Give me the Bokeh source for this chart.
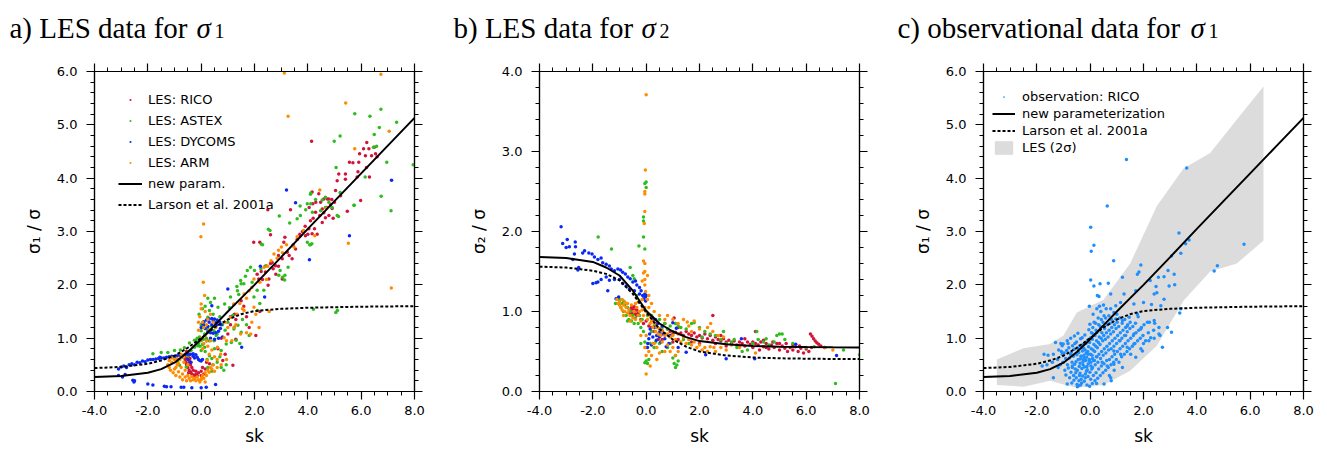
import numpy as np
from bokeh.plotting import figure
from bokeh.models import (Range1d, LinearAxis, FixedTicker, PrintfTickFormatter,
                          CustomJSTickFormatter, Legend, LegendItem)
from bokeh.core.properties import value
from bokeh.layouts import row, column
from bokeh.embed import file_html
from bokeh.resources import INLINE

# ---------------- data ----------------
X_TICKS = [-4, -2, 0, 2, 4, 6, 8]
Y_TICKS_A = [0, 1, 2, 3, 4, 5, 6]
Y_TICKS_B = [0, 1, 2, 3, 4]
TITLES = ["a) LES data for", "b) LES data for", "c) observational data for"]
TITLE_SUBS = ["1", "2", "1"]

# parameterization curves
SK_CURVE = [-4, -3, -2, -1.5, -1, -0.5, 0, 0.5, 1, 1.5, 2, 3, 4, 5, 6, 7, 8]
NEW_S1 = [0.27, 0.29, 0.35, 0.42, 0.54, 0.74, 0.98, 1.24, 1.5, 1.75, 2.0, 2.52, 3.05, 3.57, 4.09, 4.61, 5.13]
LARSON_S1 = [0.44, 0.46, 0.52, 0.58, 0.67, 0.82, 1.0, 1.2, 1.35, 1.45, 1.51, 1.55, 1.57, 1.58, 1.59, 1.595, 1.6]
NEW_S2 = [1.68, 1.67, 1.62, 1.55, 1.45, 1.26, 1.01, 0.85, 0.75, 0.68, 0.63, 0.59, 0.57, 0.56, 0.555, 0.552, 0.55]
LARSON_S2 = [1.56, 1.55, 1.51, 1.47, 1.39, 1.22, 0.99, 0.78, 0.65, 0.56, 0.5, 0.45, 0.425, 0.415, 0.41, 0.407, 0.405]

# LES 2-sigma band (panel c)
BAND_SK = [-3.5, -2.5, -1.5, -1.0, -0.5, 0.5, 1.5, 2.5, 3.5, 4.5, 5.5, 6.5]
BAND_LO = [0.12, 0.09, 0.2, 0.13, 0.07, 0.12, 0.39, 0.86, 1.7, 2.25, 2.4, 2.83]
BAND_HI = [0.6, 0.81, 0.89, 1.05, 1.48, 1.72, 2.4, 3.48, 4.18, 4.47, 5.1, 5.72]

# panel a: sigma1/sigma from LES
A_RICO = [(4.14,4.69),(2.5,3.41),(2.2,2.8),(1.97,2.8),(2.6,2.94),(3.14,2.89),(3.35,3.41),(3.23,2.61),(3.54,2.67),
          (3.41,2.49),(3.04,2.49),(2.79,2.36),(2.6,2.4),(2.41,2.24),(2.16,2.11),(2.51,1.99),(3.04,2.11),(3.72,2.92),
          (3.91,2.92),(4.16,2.96),(4.04,3.05),(4.29,3.36),(4.19,3.52),(4.54,3.17),(4.66,3.26),(4.79,3.3),(4.91,3.43),
          (4.73,3.61),(5.04,3.77),(5.1,3.95),(4.79,3.61),(4.54,3.42),(4.48,3.55),(4.16,3.74),(4.41,3.71),(4.6,3.61),
          (5.23,3.67),(5.48,3.38),(5.16,4.08),(5.41,4.08),(5.56,4.3),(5.69,4.29),(5.91,4.3),(5.94,4.46),(6.09,4.55),
          (6.21,4.67),(6.29,4.55),(6.39,4.42),(6.54,4.46),(6.49,4.58),(6.16,4.42),(5.85,4.02),(5.98,3.58),(6.31,4.02),
          (5.88,4.12),(5.41,3.98),(2.66,2.42),(2.54,2.11),(3.6,2.85),(3.8,3.0),(3.9,3.1),(4.0,2.95),(4.1,3.2),(4.2,3.25),
          (4.25,3.05),(4.35,2.95),(4.45,3.3),(4.6,3.35),(4.7,3.45),(3.7,2.95),(4.05,3.45),(4.3,3.55),(4.85,3.5),(4.9,3.6),
          (5.0,3.55),(4.95,3.25),(3.3,2.55),(3.45,2.75),(2.9,2.35),(2.8,2.2),(2.7,2.3),(2.3,2.1),(2.25,2.25),(2.4,2.35),
          (2.9,2.55),(3.1,2.8),(2.1,2.2),(6.6,4.4),(6.2,4.2),(1.0,1.08),(1.25,1.45),(1.5,1.7),(0.75,1.0),(0.81,0.58),
          (0.31,0.52),(1.19,0.49),(0.63,0.8),(0.5,0.96),(1.1,1.25),(1.3,1.35),(1.6,1.6),(1.8,1.2),(2.05,1.05),(1.3,0.98),
          (0.9,0.7),(1.7,1.4),(2.2,1.5),(-0.55,0.75),(-0.6,0.7),(-0.62,0.65),(-0.6,0.6),(-0.58,0.55),(-0.55,0.5),
          (-0.5,0.45),(-0.45,0.4),(-0.4,0.36),(-0.35,0.33),(-0.3,0.31),(-0.25,0.3),(-0.2,0.32),(-0.5,0.72),(-0.45,0.68),
          (-0.42,0.62),(-0.45,0.57),(-0.48,0.52),(-0.4,0.5),(-0.35,0.45),(-0.3,0.4),(-0.2,0.38),(-0.1,0.35),(0.0,0.38),
          (0.1,0.33),(0.15,0.42),(-0.15,0.3),(0.0,0.3),(-0.38,0.55),(-0.52,0.62),(-0.47,0.35),(0.2,0.55),(0.05,0.45)]

A_ASTEX = [(6.74,5.29),(6.33,5.16),(5.76,5.21),(6.68,4.95),(7.33,5.05),(5.21,4.79),(4.99,4.69),(6.49,4.82),(6.58,4.6),
           (7.95,4.25),(5.06,4.2),(6.15,4.02),(6.75,3.66),(7.12,3.39),(5.74,3.49),(5.21,3.73),(5.15,3.28),(4.11,3.72),
           (4.11,3.52),(3.71,3.48),(4.17,3.36),(3.6,3.24),(2.93,3.29),(2.58,3.02),(4.15,2.77),(4.07,2.75),(3.32,3.16),
           (3.05,2.14),(3.13,2.09),(3.26,2.33),(2.3,2.75),(2.0,2.27),(1.73,2.27),(1.48,2.08),(1.36,1.89),(1.1,1.77),
           (2.1,1.9),(1.98,1.77),(5.11,1.52),(5.05,1.48),(4.21,1.54),(2.11,1.52),(1.23,1.17),(0.6,1.08),(0.48,0.95),
           (4.66,3.64),(4.79,3.55),(4.91,3.45),(4.54,3.59),(4.29,3.6),(3.98,3.52),(4.1,3.7),(3.92,3.41),(3.72,3.3),
           (2.52,3.04),(2.26,2.76),(1.85,2.33),(1.66,2.16),(1.34,1.97),(1.41,1.82),(1.22,1.63),(1.6,2.02),(1.91,2.05),
           (2.24,2.3),(2.44,2.36),(2.96,2.27),(3.14,2.18),(2.91,2.18),(3.98,2.8),(4.1,2.75),(4.48,3.39),(4.66,3.45),
           (5.1,3.3),(5.73,3.49),(6.46,4.58),(6.96,4.3),
           (-1.81,0.71),(-1.5,0.73),(-1.25,0.73),(-1.0,0.77),(-0.78,0.78),(-0.63,0.82),(-0.44,0.91),(-0.25,0.96),
           (-0.06,1.02),(0.0,1.14),(0.03,1.2),(0.1,1.3),(0.25,1.39),(0.31,1.52),(0.35,1.67),(0.63,1.58),(0.88,1.64),
           (1.06,1.57),(1.19,1.43),(1.25,1.21),(1.38,1.24),(1.5,2.02),(1.5,1.11),(1.31,0.96),(1.13,0.92),(0.94,0.89),
           (0.75,0.77),(0.31,0.67),(0.44,0.5),(0.5,0.8),(0.13,0.83),(0.0,0.77),(-0.13,0.86),(-0.19,0.95),(-0.25,0.83),
           (-0.38,0.77),(-0.5,0.67),(-0.69,0.64),(-0.88,0.55),(-0.81,0.49),(-0.56,0.46),(0.75,0.45),(0.94,0.5),
           (0.13,1.08),(0.25,1.17),(0.38,1.23),(0.48,1.14),(0.56,1.05),(-0.1,0.9),(0.0,0.95),(-0.05,0.85),(0.05,0.88),
           (0.08,0.98),(-0.15,1.0),(0.2,1.0),(0.3,0.95),(0.15,0.75),(0.22,0.6),(0.4,0.62),(0.6,0.55),(0.7,0.65),
           (0.85,0.4),(0.4,0.38),(0.25,0.45),(0.0,1.25),(-0.08,1.45),(0.05,1.55),(0.15,1.6),(0.45,1.45),(0.7,1.4),
           (0.8,1.25),(0.9,1.15),(1.0,1.3),(0.6,1.3),(0.5,1.75),(0.25,1.75),(1.55,1.35),(1.7,1.25),(1.8,1.05),
           (1.45,0.9),(2.2,1.65),(2.35,1.9)]

A_DYCOMS = [(-3.1,0.42),(-3.0,0.46),(-2.9,0.48),(-2.8,0.45),(-2.7,0.5),(-2.6,0.52),(-2.5,0.5),(-2.4,0.55),(-2.3,0.54),
            (-2.2,0.57),(-2.1,0.56),(-2.0,0.59),(-1.9,0.6),(-1.8,0.6),(-1.7,0.61),(-1.6,0.62),(-1.55,0.64),(-1.5,0.63),
            (-1.4,0.63),(-1.3,0.64),(-1.2,0.65),(-1.1,0.66),(-1.0,0.65),(-0.9,0.67),(-0.8,0.68),(-0.7,0.67),(-0.6,0.69),
            (-0.5,0.7),(-0.4,0.7),(-0.3,0.71),(-0.2,0.69),(-0.15,0.64),(-0.1,0.6),(-0.05,0.58),(0.0,0.57),(0.05,0.6),
            (-0.3,0.66),(-0.25,0.63),(-3.1,0.3),(-2.95,0.27),(-2.85,0.32),(-2.56,0.21),(-2.5,0.2),(-2.52,0.18),
            (-2.0,0.14),(-1.81,0.12),(-1.38,0.1),(-1.3,0.09),(-1.13,0.09),(-0.75,0.08),(-0.65,0.08),(-0.35,0.07),
            (0.0,0.07),(0.19,0.08),(0.54,0.13),(0.0,1.2),(0.05,1.28),(0.1,1.31),(0.2,1.34),(0.3,1.36),(0.4,1.37),
            (0.5,1.36),(0.6,1.34),(0.7,1.3),(0.75,1.25),(0.72,1.18),(0.65,1.13),(0.55,1.1),(0.45,1.09),(0.35,1.1),
            (0.25,1.13),(0.15,1.18),(0.1,1.24),(0.3,1.3),(0.45,1.32),(0.55,1.29),(0.6,1.25),(0.4,1.25),(0.25,1.22),
            (0.35,1.0),(0.5,0.98),(0.65,1.0),(0.8,1.02),(0.2,0.95),(1.0,1.92),(2.22,2.35),(2.38,1.77),(3.2,3.78),
            (3.54,3.54),(4.06,2.47),(5.56,2.92),(7.14,3.96),(0.4,1.61),(1.52,0.83),(1.1,1.4),(-0.5,0.6),(-0.4,0.55)]

A_ARM = [(3.12,5.97),(3.26,5.16),(5.42,5.41),(6.74,5.95),(7.05,4.88),(5.76,4.55),(5.52,2.78),(7.13,1.94),(0.09,3.14),
         (-0.01,2.9),(0.08,2.05),(4.45,3.78),(4.7,3.43),(4.26,2.92),(3.84,3.02),(3.48,2.71),(3.01,2.71),(2.73,2.58),
         (2.62,2.45),(2.36,2.33),(1.98,2.11),(1.8,1.89),(1.61,1.83),(1.23,1.64),(1.1,1.39),(1.61,1.52),(1.98,1.58),
         (2.17,1.2),(1.86,1.08),(1.48,1.08),(1.23,1.2),(0.86,1.01),(0.61,0.83),(0.73,0.7),(0.23,0.58),(0.02,0.26),
         (2.9,2.65),(3.05,2.6),(2.5,2.35),(2.45,2.1),(2.2,2.05),(1.7,1.75),(1.45,1.65),(1.35,1.45),(3.6,2.9),(3.2,2.75),
         (2.85,2.5),(1.9,1.95),(1.55,1.55),(1.7,1.1),(1.9,1.3),(2.05,1.45),(1.3,1.25),(1.0,1.2),(0.9,1.3),(0.95,0.95),
         (1.15,0.95),(2.55,1.5),(0.0,1.55),(0.0,1.64),(0.13,1.8),(-0.05,1.4),(0.05,1.3),(0.1,1.2),(-0.1,1.15),
         (0.15,1.05),(0.2,1.25),(0.25,1.35),(0.3,1.15),(0.2,0.95),(0.1,0.9),(0.0,1.0),(-0.05,0.95),(0.05,0.8),(0.25,0.85),
         (0.35,0.95),(0.4,0.78),(0.3,0.7),(0.5,0.65),(0.6,0.6),(-0.1,1.3),(0.15,1.5),(0.35,1.45),(0.45,1.3),(0.55,1.2),
         (-1.25,0.5),(-1.2,0.45),(-1.15,0.4),(-1.1,0.55),(-1.05,0.35),(-1.0,0.6),(-1.0,0.42),(-0.95,0.3),(-0.9,0.5),
         (-0.85,0.37),(-0.8,0.27),(-0.8,0.6),(-0.75,0.45),(-0.7,0.33),(-0.7,0.22),(-0.65,0.55),(-0.6,0.4),(-0.6,0.27),
         (-0.55,0.2),(-0.5,0.3),(-0.45,0.25),(-0.4,0.2),(-0.35,0.28),(-0.3,0.22),(-0.25,0.25),(-0.2,0.2),(-0.15,0.27),
         (-0.1,0.22),(-0.05,0.18),(0.0,0.22),(0.05,0.3),(0.1,0.25),(0.15,0.35),(0.2,0.3),(0.25,0.4),(0.3,0.36),
         (0.35,0.45),(0.4,0.42),(0.45,0.5),(0.5,0.38),(-1.1,0.63),(-0.9,0.62),(-0.95,0.45),(-0.65,0.65),(-0.75,0.7),
         (-1.2,0.58),(-0.85,0.52),(-0.5,0.5),(0.6,0.45),(0.75,0.5),(0.95,0.6),(0.15,0.18)]

# panel b: sigma2/sigma from LES
B_RICO = [(-0.6,1.02),(-0.55,1.05),(-0.5,1.03),(-0.45,1.0),(-0.4,0.97),(-0.35,0.95),(-0.5,0.96),(-0.55,0.98),(-0.45,1.06),
          (-0.4,1.02),(-0.3,0.98),(-0.35,1.02),(-0.6,0.97),(-0.2,0.9),(-0.1,0.85),(0.0,0.88),(0.1,0.82),(0.2,0.8),
          (0.3,0.75),(0.35,0.85),(0.5,0.78),(0.6,0.76),(0.7,0.72),(0.8,0.78),(0.9,0.75),(1.0,0.72),(1.1,0.74),(1.2,0.8),
          (1.3,0.73),(1.4,0.7),(1.5,0.75),(1.6,0.72),(1.7,0.7),(1.8,0.73),(1.9,0.68),(2.0,0.7),(2.1,0.67),(2.2,0.72),
          (2.3,0.66),(2.4,0.7),(2.5,0.95),(2.5,0.64),(2.6,0.68),(2.7,0.65),(2.8,0.63),(2.9,0.66),(3.0,0.62),(3.1,0.64),
          (3.2,0.6),(3.3,0.63),(3.4,0.58),(3.5,0.62),(3.6,0.6),(3.7,0.57),(3.8,0.62),(3.9,0.59),(4.0,0.55),(4.1,0.75),
          (4.1,0.6),(4.2,0.58),(4.3,0.62),(4.4,0.56),(4.5,0.6),(4.6,0.53),(4.7,0.58),(4.8,0.55),(4.9,0.6),(5.0,0.52),
          (5.1,0.57),(5.2,0.54),(5.3,0.5),(5.4,0.55),(5.5,0.52),(5.6,0.56),(5.7,0.5),(5.8,0.54),(5.9,0.48),(6.0,0.53),
          (6.1,0.5),(6.16,0.72),(6.22,0.69),(6.28,0.66),(6.34,0.63),(6.4,0.61),(6.47,0.59),(6.55,0.57),(6.7,0.55),
          (0.25,0.9),(0.6,0.65),(1.0,0.62),(1.2,0.65),(1.7,0.62),(2.0,0.6),(2.6,0.6),(3.0,0.57),(3.5,0.56),(4.0,0.62),
          (4.5,0.55),(5.0,0.6),(5.5,0.58),(4.4,0.64),(3.7,0.66),(2.8,0.7),(0.7,0.85),(1.05,0.92),(0.45,0.65),(0.15,0.95),
          (4.25,0.52),(4.75,0.62),(5.25,0.6),(5.75,0.57),(6.2,0.55)]

B_ASTEX = [(0.0,2.62),(-0.05,2.6),(0.0,2.55),(-0.1,2.18),(-0.1,2.13),(-0.1,1.93),(-0.05,1.78),(-0.27,1.82),(-1.8,1.93),
           (-1.3,1.78),(-0.6,1.55),(-0.5,1.45),(-0.45,1.41),(-0.35,1.2),(-1.15,1.1),(-1.0,1.15),(-0.95,1.05),(-0.9,1.1),
           (-0.85,1.0),(-0.8,1.08),(-0.75,0.95),(-0.7,1.05),(-0.65,0.9),(-0.6,1.0),(-0.55,0.88),(-0.5,0.95),(-0.45,0.85),
           (-0.4,0.92),(-0.3,0.85),(-0.25,0.95),(-0.2,0.8),(-0.15,0.9),(-0.1,0.75),(-0.05,0.62),(0.0,0.55),(0.0,0.38),
           (-0.05,0.36),(0.05,0.35),(0.1,0.4),(0.15,0.6),(-0.2,0.6),(0.2,0.75),(0.3,0.82),(0.4,0.7),(0.5,0.9),(0.6,0.8),
           (0.7,0.85),(0.8,0.78),(0.9,0.82),(1.0,0.75),(1.1,0.85),(1.2,0.82),(1.3,0.8),(1.5,0.78),(1.7,0.85),(1.8,0.86),
           (2.0,0.8),(2.2,0.75),(2.4,0.72),(2.6,0.7),(2.8,0.65),(3.0,0.6),(3.2,0.62),(3.4,0.55),(3.6,0.5),(3.8,0.52),
           (4.0,0.6),(4.15,0.75),(4.2,0.65),(4.4,0.62),(4.6,0.58),(4.8,0.62),(4.9,0.7),(5.0,0.72),(5.1,0.72),(5.2,0.65),
           (5.5,0.6),(6.0,0.55),(6.3,0.56),(6.7,0.55),(7.1,0.1),(7.4,0.52),(8.0,0.46),(1.05,0.35),(1.1,0.3),(1.15,0.33),
           (1.2,0.38),(1.0,0.42),(1.1,0.45),(0.8,0.55),(0.6,0.5),(0.3,0.55),(1.4,0.65),(1.6,0.6),(0.5,0.6),(0.9,0.6),
           (-1.05,1.17),(-0.85,1.13),(-0.7,0.88),(0.05,0.95),(0.2,0.95),(0.35,0.62),(2.1,0.68),(2.9,0.75),(3.3,0.65),
           (4.5,0.66)]

B_DYCOMS = [(-3.19,2.06),(-3.13,1.85),(-2.96,1.9),(-3.0,1.8),(-2.88,1.81),(-2.66,1.87),(-2.65,1.81),(-2.69,1.72),
            (-2.75,1.65),(-2.53,1.55),(-2.56,1.52),(-2.38,1.73),(-2.31,1.76),(-2.15,1.73),(-2.03,1.72),(-1.94,1.68),
            (-1.81,1.65),(-1.69,1.67),(-1.63,1.61),(-1.5,1.59),(-1.38,1.57),(-1.31,1.53),(-1.19,1.51),(-1.06,1.53),
            (-0.96,1.52),(-0.88,1.49),(-0.78,1.47),(-0.69,1.43),(-0.6,1.41),(-0.5,1.37),(-0.4,1.38),(-0.35,1.33),
            (-0.25,1.3),(-0.19,1.26),(-0.13,1.2),(-0.03,1.18),(-0.1,1.16),(-0.25,1.22),(-0.44,1.26),(-0.63,1.28),
            (-0.75,1.32),(-0.88,1.35),(-1.0,1.4),(-1.19,1.4),(-1.38,1.39),(-1.5,1.43),(-1.69,1.4),(-1.81,1.37),
            (-2.0,1.35),(-1.88,1.36),(-1.44,1.26),(-1.13,1.16),(-1.03,1.18),(-0.05,1.22),(0.0,1.2),(-0.02,1.13),
            (0.13,0.72),(0.25,0.68),(0.06,0.6),(0.38,0.64),(0.5,0.74),(0.63,0.72),(0.31,0.8),(0.75,0.56),(1.0,0.86),
            (1.13,0.79),(1.5,0.49),(0.5,0.68),(0.1,0.66),(0.2,0.58),(0.15,0.78),(0.4,0.7),(0.55,0.62),(0.7,0.66),
            (0.85,0.6),(0.45,0.85),(0.35,0.9),(0.25,0.92),(0.6,0.82),(0.9,0.7),(0.05,0.55),(2.23,0.46),(3.0,0.41),
            (3.57,0.66),(4.07,0.41),(5.61,0.59),(7.14,0.45),(1.2,0.55)]

B_ARM = [(0.0,3.71),(-0.03,2.77),(-0.05,2.5),(-0.05,2.47),(-0.05,2.25),(-0.07,2.1),(-0.1,1.63),(-0.05,1.6),(-0.05,1.5),
         (-0.1,1.48),(-0.05,1.4),(0.05,1.45),(-0.15,1.38),(-0.05,1.33),(0.1,1.2),(-0.02,1.25),(-1.1,1.15),(-1.05,1.1),
         (-1.0,1.08),(-1.0,1.12),(-0.95,1.05),(-0.9,1.15),(-0.9,1.02),(-0.85,1.08),(-0.8,1.0),(-0.8,1.12),(-0.75,1.05),
         (-0.7,0.98),(-0.7,1.1),(-0.65,1.02),(-0.6,0.95),(-0.55,1.08),(-0.5,0.92),(-0.45,1.0),(-0.4,0.9),(-0.35,1.05),
         (-0.3,0.95),(-0.25,1.0),(-0.2,0.88),(-0.15,1.02),(-0.1,0.95),(-0.05,1.05),(0.0,1.0),(0.05,0.9),(0.1,0.95),
         (0.15,0.85),(0.2,0.88),(0.25,0.8),(0.3,0.85),(0.35,0.75),(0.4,0.8),(0.45,0.72),(0.5,0.78),(0.55,0.7),(0.6,0.75),
         (0.7,0.7),(0.8,0.72),(0.9,0.68),(1.0,0.7),(1.1,0.65),(1.2,0.72),(1.3,0.62),(1.4,0.68),(1.5,0.6),(1.6,0.65),
         (1.7,0.58),(1.8,0.62),(1.9,0.55),(2.0,0.58),(2.1,0.52),(2.2,0.55),(2.3,0.5),(2.4,0.56),(2.6,0.5),(2.8,0.55),
         (3.0,0.52),(3.2,0.58),(3.5,0.55),(4.1,0.48),(6.7,0.55),(7.0,0.52),(0.0,0.22),(0.0,0.45),(-0.05,0.55),(0.1,0.5),
         (0.2,0.45),(0.3,0.6),(0.4,0.55),(0.5,0.48),(0.7,0.5),(0.6,0.62),(0.8,0.58),(0.9,0.5),(1.0,0.55),(1.1,0.45),
         (1.2,0.5),(0.4,0.4),(0.15,0.32),(0.25,0.6),(0.0,0.7),(-0.2,0.7),(0.1,1.05),(0.2,1.1),(0.3,1.0),(0.5,0.95),
         (0.7,0.9),(0.8,0.95),(1.0,0.9),(1.2,0.85),(1.4,0.9),(1.6,0.82),(1.8,0.88),(2.0,0.78),(2.3,0.8),(2.5,0.75),
         (2.7,0.7),(2.9,0.68),(1.7,0.75),(-0.3,1.12),(-0.15,1.15),(0.05,1.15),(-0.4,1.1),(-0.85,0.95),(-0.6,0.88),
         (1.54,0.87),(2.42,0.85),(2.54,0.55)]

# panel c: observations (RICO)
C_OBS = [(1.36,4.35),(3.62,4.19),(0.64,3.48),(0.02,3.08),(0.14,2.74),(0.04,2.63),(0.88,2.45),(3.33,2.97),(3.71,2.84),
         (3.58,2.77),(3.4,2.59),(3.05,2.54),(4.77,2.36),(4.65,2.26),(5.77,2.76),(0.02,2.09),(0.14,1.98),(0.37,2.02),
         (0.68,2.03),(1.9,2.37),(1.83,2.24),(1.77,2.2),(1.21,2.14),(1.71,1.89),(2.25,2.08),(2.56,2.14),(2.77,2.15),
         (3.15,2.2),(2.92,2.27),(2.96,1.98),(3.17,2.0),(2.47,1.97),(2.4,1.83),(2.5,1.85),(2.77,1.73),(2.65,1.61),
         (2.3,1.63),(2.0,1.67),(1.64,1.64),(1.27,1.83),(0.27,1.8),(0.33,1.78),(0.77,1.83),(1.14,1.67),(3.4,1.55),
         (3.36,1.47),(3.05,1.11),(2.71,0.83),(2.9,1.2),(2.58,1.08),(2.4,1.33),(2.15,1.3),(2.27,1.01),(2.08,0.95),
         (1.96,0.76),(1.71,0.64),(1.52,0.7),(1.39,0.83),(1.33,1.05),(1.64,1.08),(1.9,1.17),(1.77,1.45),(1.46,1.39),
         (1.21,1.33),(0.96,1.36),(0.89,1.48),(0.96,1.61),(0.77,1.55),(1.39,1.23),(1.12,0.95),(0.89,0.76),(1.21,0.45),
         (0.77,0.26),(0.79,0.2),(0.52,0.14),(0.24,0.15),(0.89,0.51),(1.64,0.89),(1.14,0.7),(0.64,0.48),(-1.73,0.7),
         (-1.8,0.48),(-1.38,0.26),(-1.3,0.92),(-1.01,0.89),(-1.05,0.7),(-0.86,0.14),(-0.48,0.09),(-0.36,0.12),(-0.67,0.45),
         (-1.02,0.55),(-0.98,0.72),(-1.05,0.86),(-0.95,0.4),(-0.92,0.62),(-0.88,0.77),(-0.91,0.31),(-0.86,0.95),
         (-0.85,0.5),(-0.82,0.44),(-0.78,0.63),(-0.8,0.82),(-0.77,0.26),(-0.83,0.9),(-0.74,0.7),(-0.72,0.36),(-0.68,0.55),
         (-0.71,0.73),(-0.66,0.86),(-0.69,0.16),(-0.73,1.0),(-0.67,0.48),(-0.62,0.3),(-0.58,0.51),(-0.63,0.66),(-0.6,0.79),
         (-0.57,0.9),(-0.61,0.21),(-0.59,1.04),(-0.56,0.42),(-0.52,0.26),(-0.48,0.4),(-0.53,0.56),(-0.5,0.69),(-0.47,0.81),
         (-0.51,0.93),(-0.49,0.13),(-0.46,1.09),(-0.54,0.35),(-0.45,0.6),(-0.42,0.2),(-0.38,0.34),(-0.41,0.47),(-0.37,0.61),
         (-0.43,0.73),(-0.39,0.86),(-0.36,0.99),(-0.4,0.3),(-0.35,0.66),(-0.44,0.11),(-0.38,0.53),(-0.32,0.16),(-0.28,0.29),
         (-0.31,0.43),(-0.27,0.56),(-0.33,0.66),(-0.29,0.76),(-0.26,0.88),(-0.3,1.01),(-0.25,0.6),(-0.34,0.23),(-0.24,0.81),
         (-0.27,0.5),(-0.22,0.19),(-0.18,0.33),(-0.21,0.46),(-0.17,0.58),(-0.23,0.68),(-0.19,0.78),(-0.16,0.9),(-0.2,1.06),
         (-0.14,0.38),(-0.22,0.63),(-0.15,0.72),(-0.18,0.26),(-0.12,0.12),(-0.08,0.28),(-0.11,0.41),(-0.07,0.52),
         (-0.13,0.64),(-0.09,0.75),(-0.06,0.84),(-0.1,0.96),(-0.05,1.16),(-0.04,0.58),(-0.12,0.47),(-0.08,0.7),(-0.02,0.1),
         (0.02,0.23),(-0.01,0.36),(0.03,0.48),(-0.03,0.6),(0.01,0.7),(0.04,0.8),(-0.02,0.92),(0.02,1.01),(0.05,1.1),
         (-0.01,1.26),(0.03,0.55),(0.06,0.42),(-0.03,1.6),(0.08,0.15),(0.12,0.3),(0.09,0.45),(0.13,0.58),(0.07,0.68),
         (0.11,0.78),(0.14,0.88),(0.08,0.98),(0.12,1.08),(0.1,1.2),(0.15,1.3),(0.09,0.62),(0.11,1.45),(0.18,0.2),(0.22,0.35),
         (0.19,0.5),(0.23,0.65),(0.17,0.75),(0.21,0.85),(0.24,0.95),(0.18,1.05),(0.22,1.15),(0.2,1.28),(0.25,1.55),
         (0.16,0.58),(0.28,0.25),(0.32,0.42),(0.29,0.55),(0.33,0.7),(0.27,0.82),(0.31,0.92),(0.34,1.02),(0.28,1.12),
         (0.32,1.25),(0.3,1.38),(0.35,1.6),(0.26,0.65),(0.38,0.3),(0.42,0.48),(0.39,0.62),(0.43,0.75),(0.37,0.88),(0.41,1.0),
         (0.44,1.1),(0.38,1.22),(0.42,1.35),(0.4,1.5),(0.45,0.55),(0.48,0.35),(0.52,0.52),(0.49,0.68),(0.53,0.8),(0.47,0.95),
         (0.51,1.05),(0.54,1.18),(0.48,1.3),(0.52,1.42),(0.5,1.62),(0.58,0.4),(0.62,0.58),(0.59,0.72),(0.63,0.85),(0.57,0.98),
         (0.61,1.1),(0.64,1.25),(0.58,1.38),(0.6,1.55),(0.68,0.45),(0.72,0.6),(0.69,0.78),(0.73,0.9),(0.67,1.02),(0.71,1.15),
         (0.74,1.28),(0.7,1.42),(0.72,0.3),(0.78,0.5),(0.82,0.65),(0.79,0.8),(0.83,0.95),(0.77,1.08),(0.81,1.2),(0.8,1.35),
         (0.88,0.55),(0.92,0.7),(0.89,0.85),(0.93,1.0),(0.87,1.12),(0.91,1.25),(0.9,0.4),(0.98,0.6),(1.02,0.75),(0.99,0.9),
         (1.03,1.05),(0.97,1.18),(1.01,1.3),(1.0,1.45),(1.08,0.55),(1.12,0.8),(1.09,0.95),(1.13,1.1),(1.07,1.22),(1.11,1.38),
         (1.18,0.65),(1.22,0.85),(1.19,1.0),(1.23,1.15),(1.2,1.28),(1.28,0.7),(1.32,0.9),(1.29,1.05),(1.33,1.2),(1.3,1.35),
         (1.38,0.75),(1.42,0.95),(1.39,1.12),(1.41,1.25),(1.48,0.8),(1.52,1.0),(1.49,1.18),(1.5,1.3),(1.58,0.85),(1.62,1.05),
         (1.6,1.22),(1.68,0.9),(1.72,1.1),(1.7,1.28),(1.78,0.95),(1.82,1.15),(1.8,1.4),(1.88,1.0),(1.92,1.2),(1.9,0.8),
         (1.98,1.05),(2.02,1.25),(2.0,0.9),(2.18,1.1),(2.22,1.3),(2.2,0.95),(2.38,1.15),(2.42,1.28),(2.4,1.0),(2.58,1.2),
         (2.62,1.05),(-1.22,0.6),(-1.18,0.78),(-1.2,0.45),(-1.42,0.55),(-1.38,0.7),(-1.62,0.5),(-1.58,0.68),(-1.12,0.5),
         (-1.08,0.75),(-1.1,0.9)]

# ---------------- style ----------------
COL_RICO = "#D2143C"
COL_ASTEX = "#2EBD1E"
COL_DYCOMS = "#0A28F5"
COL_ARM = "#FF8C00"
COL_OBS = "#1E8FFF"
COL_BAND = "#DCDCDC"
SANS = "DejaVu Sans"
SERIF = "Liberation Serif"
DOT = 14          # "dot" marker: drawn radius = size/8
TITLE_H = 45
PLOT_H = 454 - TITLE_H


def xy(pts):
    return [p[0] for p in pts], [p[1] for p in pts]


def style_axis(ax, ticks, minor, labels):
    ax.ticker = FixedTicker(ticks=ticks, minor_ticks=minor)
    ax.major_tick_out = 8
    ax.major_tick_in = 0
    ax.minor_tick_out = 4
    ax.minor_tick_in = 0
    ax.axis_line_color = "black"
    ax.axis_line_width = 1.2
    ax.major_tick_line_color = "black"
    ax.major_tick_line_width = 1.2
    ax.minor_tick_line_color = "black"
    ax.minor_tick_line_width = 1
    if labels:
        ax.formatter = PrintfTickFormatter(format="%.1f")
        ax.major_label_text_font = SANS
        ax.major_label_text_font_size = "13px"
        ax.major_label_text_color = "black"
    else:
        ax.formatter = CustomJSTickFormatter(code="return ''")
        ax.major_label_standoff = 0


def make_fig(width, left, right, ymax, yticks, ylabel):
    p = figure(width=width, height=PLOT_H, x_range=Range1d(-4, 8), y_range=Range1d(0, ymax),
               output_backend="svg", toolbar_location=None,
               min_border_left=left, min_border_right=right,
               min_border_top=71 - TITLE_H, min_border_bottom=63)
    p.xgrid.visible = False
    p.ygrid.visible = False
    p.outline_line_color = "black"
    p.outline_line_width = 1.2
    p.background_fill_color = "white"
    p.border_fill_color = "white"
    xminor = list(np.arange(-4, 8.001, 0.5))
    yminor = list(np.arange(0, ymax + 0.001, 0.2))
    style_axis(p.xaxis[0], X_TICKS, xminor, True)
    style_axis(p.yaxis[0], yticks, yminor, True)
    p.xaxis[0].major_label_standoff = 6
    p.yaxis[0].major_label_standoff = 9
    p.xaxis[0].axis_label = "sk"
    p.yaxis[0].axis_label = ylabel
    for ax in (p.xaxis[0], p.yaxis[0]):
        ax.axis_label_text_font = SANS
        ax.axis_label_text_font_size = "17px"
        ax.axis_label_text_font_style = "normal"
        ax.axis_label_text_color = "black"
    p.xaxis[0].axis_label_standoff = 8
    p.yaxis[0].axis_label_standoff = 10
    top = LinearAxis()
    right_ax = LinearAxis()
    style_axis(top, X_TICKS, xminor, False)
    style_axis(right_ax, yticks, yminor, False)
    p.add_layout(top, "above")
    p.add_layout(right_ax, "right")
    return p


def dots(p, pts, col):
    xs, ys = xy(pts)
    return p.scatter(xs, ys, marker="dot", size=DOT, line_color=col, fill_color=col)


def style_legend(lg, gw, gh, standoff):
    lg.padding = 0
    lg.margin = 0
    lg.spacing = 0
    lg.border_line_color = None
    lg.background_fill_alpha = 0
    lg.glyph_width = gw
    lg.glyph_height = gh
    lg.label_height = gh
    lg.label_standoff = standoff
    lg.label_text_font = SANS
    lg.label_text_font_size = "13px"
    lg.label_text_color = "black"


# ---------------- title strip ----------------
pt = figure(width=1327, height=TITLE_H, x_range=Range1d(0, 1327), y_range=Range1d(TITLE_H, 0),
            output_backend="svg", toolbar_location=None, x_axis_type=None, y_axis_type=None,
            min_border_left=0, min_border_right=0, min_border_top=0, min_border_bottom=0)
pt.outline_line_color = None
pt.grid.visible = False
TITLE_X = [9, 453, 897]
SIGMA_X = [196, 641, 1190]
pt.text(x=TITLE_X, y=[27.5] * 3, text=TITLES, text_font=value(SERIF), text_font_size="29px",
        text_color="black", text_baseline="alphabetic", text_align="left")
pt.text(x=SIGMA_X, y=[27.5] * 3, text=["σ"] * 3, text_font=value(SERIF), text_font_size="29px",
        text_font_style="italic", text_color="black", text_baseline="alphabetic", text_align="left")
pt.text(x=[s + 18 for s in SIGMA_X], y=[30.5] * 3, text=TITLE_SUBS, text_font=value(SERIF),
        text_font_size="20px", text_color="black", text_baseline="alphabetic", text_align="left")

# ---------------- panel a ----------------
pa = make_fig(440, 94, 26, 6, Y_TICKS_A, "σ₁ / σ")
ra = {}
for name, pts, col in (("rico", A_RICO, COL_RICO), ("astex", A_ASTEX, COL_ASTEX),
                       ("dycoms", A_DYCOMS, COL_DYCOMS), ("arm", A_ARM, COL_ARM)):
    ra[name] = dots(pa, pts, col)
la_new = pa.line(SK_CURVE, NEW_S1, line_color="black", line_width=2)
la_lar = pa.line(SK_CURVE, LARSON_S1, line_color="black", line_width=2, line_dash="3 2")
leg_a = Legend(items=[LegendItem(label="LES: RICO", renderers=[ra["rico"]]),
                      LegendItem(label="LES: ASTEX", renderers=[ra["astex"]]),
                      LegendItem(label="LES: DYCOMS", renderers=[ra["dycoms"]]),
                      LegendItem(label="LES: ARM", renderers=[ra["arm"]]),
                      LegendItem(label="new param.", renderers=[la_new]),
                      LegendItem(label="Larson et al. 2001a", renderers=[la_lar])],
               location=(24, 176))
style_legend(leg_a, 24, 21, 6)
pa.add_layout(leg_a)

# ---------------- panel b ----------------
pb = make_fig(440, 99, 21, 4, Y_TICKS_B, "σ₂ / σ")
for pts, col in ((B_RICO, COL_RICO), (B_ASTEX, COL_ASTEX), (B_DYCOMS, COL_DYCOMS), (B_ARM, COL_ARM)):
    dots(pb, pts, col)
pb.line(SK_CURVE, NEW_S2, line_color="black", line_width=2)
pb.line(SK_CURVE, LARSON_S2, line_color="black", line_width=2, line_dash="3 2")

# ---------------- panel c ----------------
pc = make_fig(447, 103, 24, 6, Y_TICKS_A, "σ₁ / σ")
band = pc.varea(x=BAND_SK, y1=BAND_LO, y2=BAND_HI, fill_color=COL_BAND)
obs = dots(pc, C_OBS, COL_OBS)
lc_new = pc.line(SK_CURVE, NEW_S1, line_color="black", line_width=2)
lc_lar = pc.line(SK_CURVE, LARSON_S1, line_color="black", line_width=2, line_dash="3 2")
leg_c = Legend(items=[LegendItem(label="observation: RICO", renderers=[obs]),
                      LegendItem(label="new parameterization", renderers=[lc_new]),
                      LegendItem(label="Larson et al. 2001a", renderers=[lc_lar]),
                      LegendItem(label="LES (2σ)", renderers=[band])],
               location=(9, 235))
style_legend(leg_c, 23, 17, 7)
pc.add_layout(leg_c)

layout = column(pt, row(pa, pb, pc, spacing=0), spacing=0)
open("out.html", "w").write(file_html(layout, INLINE))
